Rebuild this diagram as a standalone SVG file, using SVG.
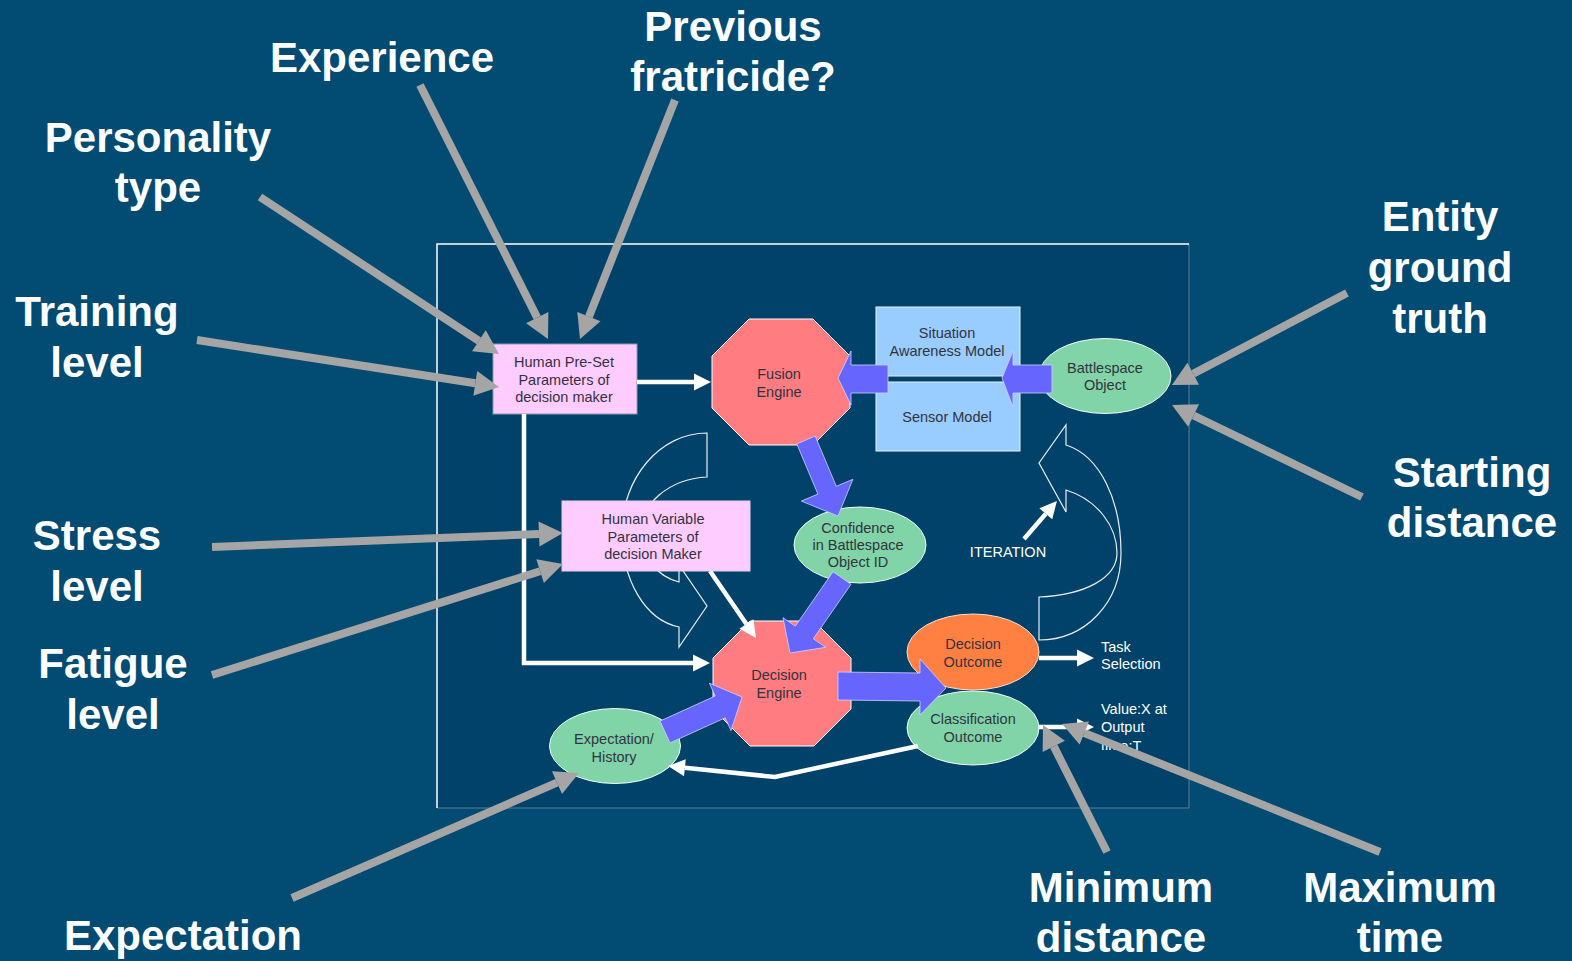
<svg xmlns="http://www.w3.org/2000/svg" width="1572" height="961" viewBox="0 0 1572 961">
<style>
.big{font-family:"Liberation Sans",Arial,sans-serif;font-weight:bold;font-size:42px;fill:#ffffff;text-anchor:middle}
.nt{font-family:"Liberation Sans",Arial,sans-serif;font-size:14.5px;fill:#333340;text-anchor:middle}
.wt{font-family:"Liberation Sans",Arial,sans-serif;font-size:14.5px;fill:#ffffff}
.gray{stroke:#a5a5a5;stroke-width:8;fill:none;marker-end:url(#gr)}
.wl{stroke:#ffffff;stroke-width:4.5;fill:none;marker-end:url(#wh)}
.blue{fill:#6666ff;stroke:#d0d0ff;stroke-width:0.8}
.oct{fill:#ff7c80;stroke:#ffffff;stroke-width:1}
.ell{fill:#80d4a8;stroke:#f0fff8;stroke-width:1}
.curve{fill:none;stroke:#e8eef2;stroke-width:1.2}
</style>
<defs>
<marker id="gr" markerUnits="userSpaceOnUse" markerWidth="40" markerHeight="40" refX="0" refY="0" viewBox="-2 -20 40 40" orient="auto" overflow="visible">
<path d="M0,-12.5 L24,0 L0,12.5 Z" fill="#a5a5a5"/>
</marker>
<marker id="wh" markerUnits="userSpaceOnUse" markerWidth="30" markerHeight="30" refX="0" refY="0" viewBox="-2 -15 30 30" orient="auto" overflow="visible">
<path d="M0,-8.5 L17,0 L0,8.5 Z" fill="#ffffff"/>
</marker>
<clipPath id="clipv"><rect x="1090" y="690" width="120" height="60"/></clipPath>
</defs>
<rect x="0" y="0" width="1572" height="961" fill="#024b72"/>
<g id="frame">
<rect x="437" y="244" width="752" height="564" fill="#01426a"/>
<path d="M1189,244 V808 H437" fill="none" stroke="#5d7f96" stroke-width="1"/>
<path d="M437,808 V244 H1189" fill="none" stroke="#ffffff" stroke-width="1.5"/>
</g>
<g id="loop-arrows">
<path class="curve" d="M707,433 L707,477 C668,479 640,505 640,533 C640,556 658,577 679,582 L679,565 L707,606 L679,647 L679,627 C645,620 622,580 622,532 C622,478 660,433 707,433 Z"/>
<path class="curve" d="M1039,640 L1039,597 C1085,595 1117,578 1117,553 C1117,527 1098,500 1066,490 L1066,512 L1039,463 L1066,425 L1066,445 C1100,456 1121,500 1121,553 C1121,603 1085,640 1039,640 Z"/>
</g>
<g id="human-preset">
<rect x="493" y="344" width="144" height="70" fill="#ffccff" stroke="#8a9ab0" stroke-width="1"/>
<text class="nt" x="564" y="367">Human Pre-Set</text>
<text class="nt" x="564" y="385">Parameters of</text>
<text class="nt" x="564" y="402">decision maker</text>
</g>
<g id="fusion-engine">
<polygon class="oct" points="749,319 813,319 850,356 850,408 813,445 749,445 712,408 712,356"/>
<text class="nt" x="779" y="379">Fusion</text>
<text class="nt" x="779" y="397">Engine</text>
</g>
<g id="situation-awareness">
<rect x="876" y="307" width="144" height="69" fill="#99ccff" stroke="#e8f4ff" stroke-width="1"/>
<text class="nt" x="947" y="338">Situation</text>
<text class="nt" x="947" y="356">Awareness Model</text>
</g>
<g id="sensor-model">
<rect x="876" y="382" width="144" height="69" fill="#99ccff" stroke="#e8f4ff" stroke-width="1"/>
<text class="nt" x="947" y="422">Sensor Model</text>
</g>
<g id="battlespace-object">
<ellipse class="ell" cx="1105" cy="376" rx="66" ry="37.5"/>
<text class="nt" x="1105" y="373">Battlespace</text>
<text class="nt" x="1105" y="390">Object</text>
</g>
<g id="human-variable">
<rect x="562" y="501" width="188" height="70" fill="#ffccff" stroke="#e0d0e8" stroke-width="1"/>
<text class="nt" x="653" y="524">Human Variable</text>
<text class="nt" x="653" y="542">Parameters of</text>
<text class="nt" x="653" y="559">decision Maker</text>
</g>
<g id="confidence">
<ellipse class="ell" cx="860" cy="545" rx="66" ry="38"/>
<text class="nt" x="858" y="533">Confidence</text>
<text class="nt" x="858" y="550">in Battlespace</text>
<text class="nt" x="858" y="567">Object ID</text>
</g>
<g id="decision-engine">
<polygon class="oct" points="750,621 814,621 851,658 851,709 814,746 750,746 713,709 713,658"/>
<text class="nt" x="779" y="680">Decision</text>
<text class="nt" x="779" y="698">Engine</text>
</g>
<g id="decision-outcome">
<ellipse cx="973" cy="652" rx="66" ry="38" fill="#ff8040" stroke="#ffe0d0" stroke-width="1"/>
<text class="nt" x="973" y="649">Decision</text>
<text class="nt" x="973" y="667">Outcome</text>
</g>
<g id="classification-outcome">
<ellipse class="ell" cx="973" cy="728" rx="66" ry="37"/>
<text class="nt" x="973" y="724">Classification</text>
<text class="nt" x="973" y="742">Outcome</text>
</g>
<g id="expectation-history">
<ellipse class="ell" cx="615" cy="746" rx="65.5" ry="37.5"/>
<text class="nt" x="614" y="744">Expectation/</text>
<text class="nt" x="614" y="762">History</text>
</g>
<g id="task-selection">
<text class="wt" x="1101" y="652">Task</text>
<text class="wt" x="1101" y="669">Selection</text>
</g>
<g id="value-output">
<g clip-path="url(#clipv)">
<text class="wt" x="1101" y="714">Value:X at</text>
<text class="wt" x="1101" y="732">Output</text>
<text class="wt" x="1101" y="751">time:T</text>
</g>
</g>
<g id="iteration">
<text class="wt" x="1008" y="557" text-anchor="middle">ITERATION</text>
</g>
<g id="connectors">
<path class="wl" d="M637,382 H694"/>
<path class="wl" d="M524,414 V663 H693"/>
<path class="wl" d="M710,571 L746.4,624"/>
<path class="wl" d="M1039,658 H1077"/>
<path class="wl" d="M1039,727 H1077"/>
<path class="wl" d="M918,746 L775,777 L684.9,767.7"/>
<path class="wl" d="M1024,539 L1045.8,513.8"/>
<polygon class="blue" points="888,365 851,365 851,351 838,378 851,405 851,393 888,393"/>
<polygon class="blue" points="1052,365 1013,365 1013,351 1002,378 1013,407 1013,393 1052,393"/>
<polygon class="blue" points="796.8,443.9 817.9,494.1 801.3,501.1 838,516 852.9,479.3 836.3,486.3 815.2,436.1"/>
<polygon class="blue" points="851,584.3 813.3,638.8 825.6,647.3 790,653 783,617.7 795.3,626.2 833,571.7"/>
<polygon class="blue" points="838,672 920,673 920,659 946,688 920,715 920,701 838,700"/>
<polygon class="blue" points="660,721.1 715.2,696 709.4,683.2 742,697 731,730.6 725.2,717.8 670,742.9"/>
<path class="gray" d="M260,197 L478.9,340.8"/>
<path class="gray" d="M197,340 L475.3,383.3"/>
<path class="gray" d="M420,85 L537.2,317.6"/>
<path class="gray" d="M675,100 L588.9,316.7"/>
<path class="gray" d="M212,547 L539,534"/>
<path class="gray" d="M212,675 L540.1,571.2"/>
<path class="gray" d="M292,898 L557,782.6"/>
<path class="gray" d="M1107,852 L1053.8,746.4"/>
<path class="gray" d="M1380,852 L1084.3,733"/>
<path class="gray" d="M1347,293 L1193.2,373.8"/>
<path class="gray" d="M1362,497 L1193.6,415.5"/>
</g>
<g id="labels">
<text class="big" x="733" y="41">Previous</text>
<text class="big" x="733" y="91">fratricide?</text>
<text class="big" x="382" y="72">Experience</text>
<text class="big" x="158" y="152">Personality</text>
<text class="big" x="158" y="202">type</text>
<text class="big" x="97" y="326">Training</text>
<text class="big" x="97" y="377">level</text>
<text class="big" x="97" y="550">Stress</text>
<text class="big" x="97" y="601">level</text>
<text class="big" x="113" y="678">Fatigue</text>
<text class="big" x="113" y="729">level</text>
<text class="big" x="183" y="950">Expectation</text>
<text class="big" x="1121" y="902">Minimum</text>
<text class="big" x="1121" y="952">distance</text>
<text class="big" x="1400" y="902">Maximum</text>
<text class="big" x="1400" y="952">time</text>
<text class="big" x="1440" y="231">Entity</text>
<text class="big" x="1440" y="282">ground</text>
<text class="big" x="1440" y="333">truth</text>
<text class="big" x="1472" y="487">Starting</text>
<text class="big" x="1472" y="537">distance</text>
</g>
</svg>
